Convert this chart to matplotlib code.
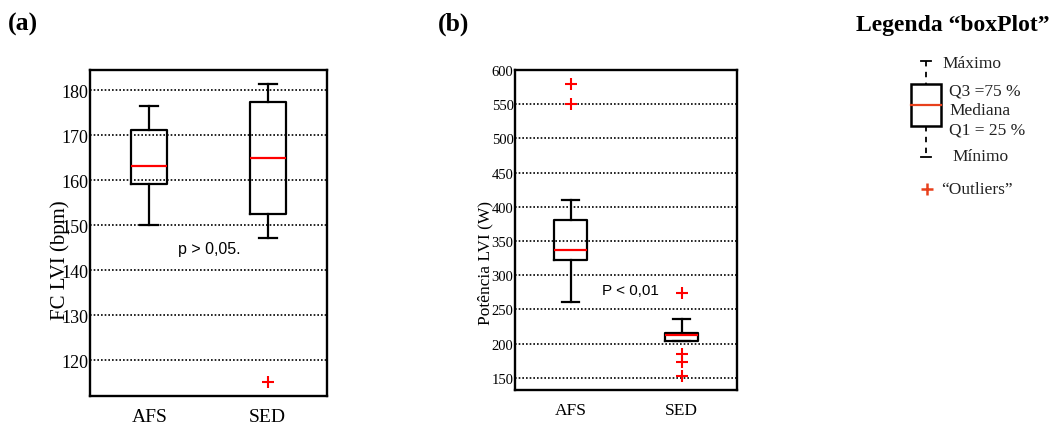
import matplotlib
matplotlib.use("Agg")
import matplotlib.pyplot as plt

# ---- data -------------------------------------------------------------
groups = ["AFS", "SED"]

# (a) heart rate at the ventilatory threshold (bpm)
fc_whislo = [150.0, 147.2]
fc_q1 = [159.1, 152.5]
fc_med = [163.2, 164.9]
fc_q3 = [171.1, 177.3]
fc_whishi = [176.4, 181.3]
fc_fliers = [[], [115.2]]
fc_ticks = [120, 130, 140, 150, 160, 170, 180]

# (b) power at the ventilatory threshold (W)
pot_whislo = [261.0, 203.4]
pot_q1 = [322.7, 203.4]
pot_med = [337.3, 211.8]
pot_q3 = [381.0, 214.7]
pot_whishi = [410.0, 235.5]
pot_fliers = [[579.5, 550.0], [273.5, 184.0, 172.5, 152.5]]
pot_ticks = [150, 200, 250, 300, 350, 400, 450, 500, 550, 600]

SERIF = "Liberation Serif"
SANS = "Liberation Sans"
RED = "#ff0000"
KEY_RED = "#e8401c"


def make_stats(labels, lo, q1, med, q3, hi, fl):
    return [dict(label=l, whislo=a, q1=b, med=c, q3=d, whishi=e, fliers=f)
            for l, a, b, c, d, e, f in zip(labels, lo, q1, med, q3, hi, fl)]


def draw_box(ax, stats, ticks, ylim, tick_fs, xlab_fs, pad):
    ax.bxp(stats, positions=[1, 2], widths=0.3, capwidths=0.15,
           boxprops=dict(color="k", lw=1.6),
           whiskerprops=dict(color="k", lw=1.6),
           capprops=dict(color="k", lw=1.6),
           medianprops=dict(color=RED, lw=1.6),
           flierprops=dict(marker="+", markeredgecolor=RED, markersize=9,
                           markeredgewidth=1.5, linestyle="none"))
    ax.set_xlim(0.5, 2.5)
    ax.set_ylim(*ylim)
    ax.set_yticks(ticks)
    ax.set_yticklabels([str(t) for t in ticks], fontfamily=SERIF, fontsize=tick_fs)
    ax.set_xticks([1, 2])
    ax.set_xticklabels(groups, fontfamily=SERIF, fontsize=xlab_fs)
    ax.tick_params(axis="both", length=0)
    ax.tick_params(axis="y", pad=1)
    ax.tick_params(axis="x", pad=pad)
    ax.yaxis.grid(True, linestyle=(0, (1, 1.2)), color="k", lw=1.2)
    ax.set_axisbelow(True)
    for s in ax.spines.values():
        s.set_linewidth(1.7)


fig = plt.figure(figsize=(10.52, 4.27), dpi=100)

# panel (a)
ax_a = fig.add_axes([90 / 1052, 1 - 397 / 427, 237 / 1052, 326 / 427])
draw_box(ax_a, make_stats(groups, fc_whislo, fc_q1, fc_med, fc_q3, fc_whishi, fc_fliers),
         fc_ticks, (112, 184.5), 13, 14, 9)
ax_a.set_ylabel("FC LVI (bpm)", fontfamily=SERIF, fontsize=15)
ax_a.yaxis.set_label_coords(-0.084, 0.42)
ax_a.text(1.24, 144.9, "p > 0,05.", fontfamily=SANS, fontsize=11.5, va="center", ha="left")

# panel (b)
ax_b = fig.add_axes([515 / 1052, 1 - 391 / 427, 222 / 1052, 320 / 427])
draw_box(ax_b, make_stats(groups, pot_whislo, pot_q1, pot_med, pot_q3, pot_whishi, pot_fliers),
         pot_ticks, (132, 600), 10.5, 12.5, 9)
ax_b.set_ylabel("Potência LVI (W)", fontfamily=SERIF, fontsize=12.5)
ax_b.yaxis.set_label_coords(-0.099, 0.40)
ax_b.text(1.28, 278, "P < 0,01", fontfamily=SANS, fontsize=11, va="center", ha="left")

# panel titles
fig.text(8 / 1052, 1 - 24 / 427, "(a)", fontfamily=SERIF, fontweight="bold",
         fontsize=18.5, va="center", ha="left")
fig.text(438 / 1052, 1 - 24 / 427, "(b)", fontfamily=SERIF, fontweight="bold",
         fontsize=18.5, va="center", ha="left")
fig.text(1050 / 1052, 1 - 25 / 427, "Legenda \u201cboxPlot\u201d", fontfamily=SERIF,
         fontweight="bold", fontsize=17, va="center", ha="right")

# box-plot key, drawn in pixel coordinates
key = fig.add_axes([0, 0, 1, 1])
key.set_xlim(0, 1052)
key.set_ylim(427, 0)
key.axis("off")
cx = 925.5
key.plot([cx, cx], [62, 85], color="k", lw=1.3, ls=(0, (3, 3)))
key.plot([cx, cx], [127, 158], color="k", lw=1.3, ls=(0, (3, 3)))
key.plot([cx - 5, cx + 5], [62, 62], color="k", lw=1.3)
key.plot([cx - 5, cx + 5], [158, 158], color="k", lw=1.3)
key.add_patch(plt.Rectangle((911, 85), 30, 42, fill=False, ec="k", lw=1.8))
key.plot([911, 941], [106, 106], color=KEY_RED, lw=1.6)
key.plot([927], [190], marker="+", color=KEY_RED, markersize=8, mew=1.8)
kfs = 12.5
kc = "#222222"
key.text(942, 64, "Máximo", fontfamily=SERIF, fontsize=kfs, color=kc, va="center")
key.text(949, 92, "Q3 =75 %", fontfamily=SERIF, fontsize=kfs, color=kc, va="center")
key.text(949, 111, "Mediana", fontfamily=SERIF, fontsize=kfs, color=kc, va="center")
key.text(949, 131, "Q1 = 25 %", fontfamily=SERIF, fontsize=kfs, color=kc, va="center")
key.text(952, 157, "Mínimo", fontfamily=SERIF, fontsize=kfs, color=kc, va="center")
key.text(941, 190, "\u201cOutliers\u201d", fontfamily=SERIF, fontsize=kfs, color=kc, va="center")

fig.savefig("out.png", dpi=100)
